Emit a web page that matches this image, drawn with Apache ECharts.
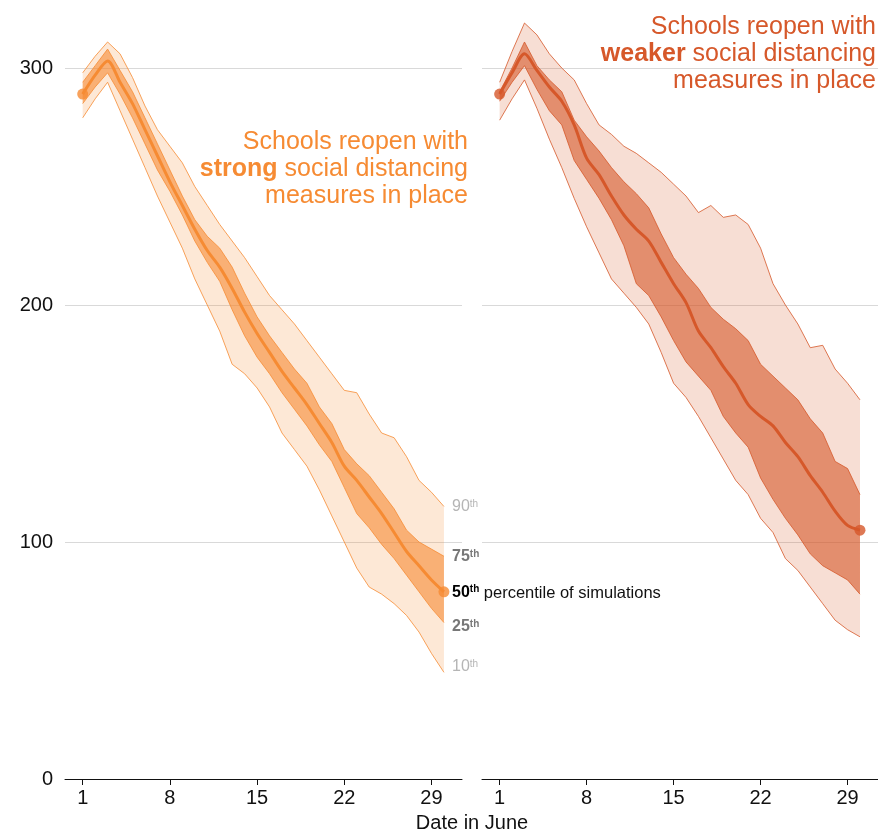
<!DOCTYPE html>
<html>
<head>
<meta charset="utf-8">
<script src="https://cdn.jsdelivr.net/npm/echarts@6/dist/echarts.min.js"></script>
<style>
html,body{margin:0;padding:0;background:#fff;}
#chart{width:878px;height:832px;}
</style>
</head>
<body>
<div id="chart"></div>
<script>
// ---- data ----
const days = [1,2,3,4,5,6,7,8,9,10,11,12,13,14,15,16,17,18,19,20,21,22,23,24,25,26,27,28,29,30];
const xTicks = [1, 8, 15, 22, 29];

// Schools reopen with strong social distancing
const strongP10 = [279,287,294,282,270,258,246,235,224,211,200,189,175,171,165,157,146,139,132,122,111,100,89,81,78,74,69,62,53,45];
const strongP25 = [285,292,298,289,279,268,257,248,238,227,218,210,198,187,178,171,163,156,149,141,134,123,112,106,99,93,86,79,72,66];
const strongP50 = [289,297,303,294,285,274,263,252,242,232,223,216,207,197,188,180,172,165,158,150,142,132,126,119,112,104,96,90,84,79];
const strongP75 = [294,301,308,299,290,279,268,257,246,236,229,224,216,205,195,187,180,173,167,157,150,139,133,128,121,114,105,100,97,94];
const strongP90 = [298,305,311,306,296,284,274,267,260,250,242,234,227,220,212,204,198,192,185,178,171,164,163,154,146,144,136,126,121,115];

// Schools reopen with weaker social distancing
const weakP10 = [278,287,295,283,270,258,245,233,222,211,205,199,192,180,167,161,153,144,135,126,120,110,104,93,88,81,74,67,63,60];
const weakP25 = [286,294,301,291,282,276,261,253,245,236,225,209,204,195,185,176,170,164,153,146,140,127,118,110,103,95,90,87,84,78];
const weakP50 = [289,298,306,299,292,286,276,262,255,246,238,232,227,218,209,201,189,182,174,167,158,153,149,142,136,128,121,113,107,105];
const weakP75 = [290,300,311,301,295,290,278,271,265,258,252,247,241,230,220,213,207,199,194,190,185,175,170,165,160,152,146,134,131,120];
const weakP90 = [294,307,319,314,306,300,295,285,276,272,267,264,260,256,251,246,239,242,237,238,234,224,209,200,192,182,183,173,167,160];

// ---- styling ----
const strongColor = '#f68b33';
const weakColor = '#d6582a';
const FONT = '"Liberation Sans", Arial, Helvetica, sans-serif';

function pairs(vals){ return days.map((d,i)=>[d, vals[i]]); }
function rgba(hex, a){
  const r=parseInt(hex.slice(1,3),16), g=parseInt(hex.slice(3,5),16), b=parseInt(hex.slice(5,7),16);
  return `rgba(${r},${g},${b},${a})`;
}

// band polygon drawn through the axis scales
function bandSeries(idx, lo, hi, fill, z){
  return {
    type:'custom', xAxisIndex:idx, yAxisIndex:idx, silent:true, animation:false, z:z,
    data:[[days[0], lo[0]]],
    clip:false,
    renderItem:function(params, api){
      const pts = [];
      for (let i=0;i<days.length;i++) pts.push(api.coord([days[i], hi[i]]));
      for (let i=days.length-1;i>=0;i--) pts.push(api.coord([days[i], lo[i]]));
      return {type:'polygon', shape:{points:pts}, style:{fill:fill, stroke:null}};
    }
  };
}
function edgeSeries(idx, vals, color, z){
  return {type:'line', xAxisIndex:idx, yAxisIndex:idx, symbol:'none', silent:true, animation:false, z:z,
    data:pairs(vals), lineStyle:{color:color, width:0.8}};
}

function panelSeries(idx, color, p10, p25, p50, p75, p90){
  return [
    bandSeries(idx, p10, p90, rgba(color,0.2), 2),
    edgeSeries(idx, p10, color, 2),
    edgeSeries(idx, p90, color, 2),
    bandSeries(idx, p25, p75, rgba(color,0.6), 3),
    edgeSeries(idx, p25, color, 3),
    edgeSeries(idx, p75, color, 3),
    {type:'line', xAxisIndex:idx, yAxisIndex:idx, symbol:'none', silent:true, animation:false, z:4,
      data:pairs(p50), smooth:0.3, lineStyle:{color:color, width:3}},
    {type:'scatter', xAxisIndex:idx, yAxisIndex:idx, silent:true, animation:false, z:5,
      symbolSize:11, itemStyle:{color:color},
      data:[[days[0], p50[0]], [days[days.length-1], p50[p50.length-1]]]}
  ];
}

const xAxisBase = {
  type:'value', min:-0.42, max:31.45,
  axisLine:{show:true, lineStyle:{color:'#111', width:1}},
  axisTick:{show:true, customValues:xTicks, length:6, lineStyle:{color:'#111'}},
  axisLabel:{customValues:xTicks, color:'#111', fontSize:20, fontFamily:FONT, margin:9},
  splitLine:{show:false}
};
const yAxisBase = {
  type:'value', min:0, max:325, interval:100,
  axisLine:{show:false}, axisTick:{show:false},
  splitLine:{show:true, showMinLine:false, showMaxLine:false, lineStyle:{color:'#d9d9d9', width:1}}
};

const chart = echarts.init(document.getElementById('chart'), null, {renderer:'canvas'});
const titleRich = (c)=>({n:{fontSize:25, fontFamily:FONT, fill:c, lineHeight:26.7},
                          b:{fontSize:25, fontFamily:FONT, fontWeight:'bold', fill:c, lineHeight:26.7}});
chart.setOption({
  animation:false,
  backgroundColor:'#fff',
  grid:[
    {left:65, top:8.8, width:397, height:770.2},
    {left:482, top:8.8, width:397, height:770.2}
  ],
  xAxis:[Object.assign({gridIndex:0}, xAxisBase), Object.assign({gridIndex:1}, xAxisBase)],
  yAxis:[
    Object.assign({gridIndex:0, axisLabel:{show:true, showMaxLabel:false, color:'#111', fontSize:20, fontFamily:FONT, margin:12}}, yAxisBase),
    Object.assign({gridIndex:1, axisLabel:{show:false}}, yAxisBase)
  ],
  series: [].concat(
    panelSeries(0, strongColor, strongP10, strongP25, strongP50, strongP75, strongP90),
    panelSeries(1, weakColor, weakP10, weakP25, weakP50, weakP75, weakP90)
  ),
  graphic:[
    {type:'text', x:468, y:129, z:10, style:{
      text:'{n|Schools reopen with}\n{b|strong}{n| social distancing}\n{n|measures in place}',
      align:'right', verticalAlign:'top', fill:strongColor, rich:titleRich(strongColor)}},
    {type:'text', x:876, y:14, z:10, style:{
      text:'{n|Schools reopen with}\n{b|weaker}{n| social distancing}\n{n|measures in place}',
      align:'right', verticalAlign:'top', fill:weakColor, rich:titleRich(weakColor)}},
    {type:'text', x:452, y:507, z:10, style:{text:'{a|90}{s|th}', verticalAlign:'middle',
      rich:{a:{fontSize:16, fontFamily:FONT, fill:'#b5b5b5'}, s:{fontSize:10, fontFamily:FONT, fill:'#b5b5b5', verticalAlign:'top'}}}},
    {type:'text', x:452, y:557, z:10, style:{text:'{a|75}{s|th}', verticalAlign:'middle',
      rich:{a:{fontSize:16, fontFamily:FONT, fontWeight:'bold', fill:'#777'}, s:{fontSize:10, fontFamily:FONT, fontWeight:'bold', fill:'#777', verticalAlign:'top'}}}},
    {type:'text', x:452, y:593, z:10, style:{text:'{a|50}{s|th}{p| percentile of simulations}', verticalAlign:'middle',
      rich:{a:{fontSize:16, fontFamily:FONT, fontWeight:'bold', fill:'#000'}, s:{fontSize:10, fontFamily:FONT, fontWeight:'bold', fill:'#000', verticalAlign:'top'},
            p:{fontSize:16.5, fontFamily:FONT, fill:'#111'}}}},
    {type:'text', x:452, y:627, z:10, style:{text:'{a|25}{s|th}', verticalAlign:'middle',
      rich:{a:{fontSize:16, fontFamily:FONT, fontWeight:'bold', fill:'#777'}, s:{fontSize:10, fontFamily:FONT, fontWeight:'bold', fill:'#777', verticalAlign:'top'}}}},
    {type:'text', x:452, y:667, z:10, style:{text:'{a|10}{s|th}', verticalAlign:'middle',
      rich:{a:{fontSize:16, fontFamily:FONT, fill:'#b5b5b5'}, s:{fontSize:10, fontFamily:FONT, fill:'#b5b5b5', verticalAlign:'top'}}}},
    {type:'text', x:472, y:823, z:10, style:{text:'Date in June', align:'center', verticalAlign:'middle',
      fontSize:20, fontFamily:FONT, fill:'#111'}}
  ]
});
</script>
</body>
</html>
